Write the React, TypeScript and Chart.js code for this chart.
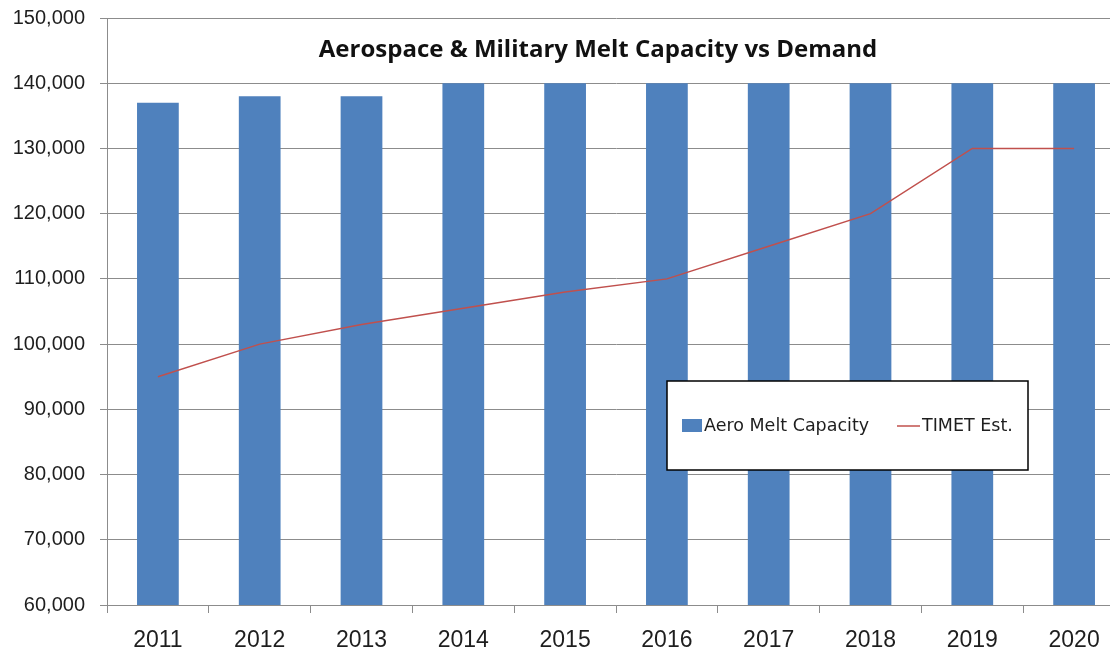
import React, { useEffect, useRef } from "react";
import { Chart, registerables } from "chart.js";

Chart.register(...registerables);

const years = ["2011", "2012", "2013", "2014", "2015", "2016", "2017", "2018", "2019", "2020"];
const meltCapacity = [137000, 138000, 138000, 140000, 140000, 140000, 140000, 140000, 140000, 140000];
const timetEst = [95000, 100000, 103000, 105500, 108000, 110000, 115000, 120000, 130000, 130000];
const titleText = "Aerospace & Military Melt Capacity vs Demand";
const barLabel = "Aero Melt Capacity";
const lineLabel = "TIMET Est.";

const BAR_COLOR = "#4F81BD";
const LINE_COLOR = "#C0504D";
const GRID_COLOR = "#8c8c8c";
const TEXT_COLOR = "#1e1e1e";

const overlayPlugin = {
  id: "overlay",
  afterDraw(chart: any) {
    const ctx = chart.ctx as CanvasRenderingContext2D;
    ctx.save();
    // title inside plot
    ctx.font = "bold 24px 'Open Sans', Lato, sans-serif";
    ctx.fillStyle = "#111";
    ctx.textAlign = "center";
    ctx.textBaseline = "middle";
    ctx.fillText(titleText, 598, 50);

    // legend box
    const bx = 667, by = 381, bw = 361, bh = 89;
    ctx.fillStyle = "#ffffff";
    ctx.fillRect(bx, by, bw, bh);
    ctx.strokeStyle = "#000";
    ctx.lineWidth = 1.5;
    ctx.strokeRect(bx, by, bw, bh);
    const cy = by + 45;
    ctx.fillStyle = BAR_COLOR;
    ctx.fillRect(bx + 15, cy - 7, 20, 13);
    ctx.font = "17.5px 'DejaVu Sans', Verdana, sans-serif";
    ctx.fillStyle = TEXT_COLOR;
    ctx.textAlign = "left";
    ctx.textBaseline = "middle";
    ctx.fillText(barLabel, bx + 37, cy);
    ctx.strokeStyle = LINE_COLOR;
    ctx.lineWidth = 1.5;
    ctx.beginPath();
    ctx.moveTo(bx + 230, cy);
    ctx.lineTo(bx + 253, cy);
    ctx.stroke();
    ctx.fillText(lineLabel, bx + 255, cy);
    ctx.restore();
  },
};

export default function App() {
  const canvasRef = useRef<HTMLCanvasElement | null>(null);

  useEffect(() => {
    if (!canvasRef.current) return;
    const chart = new Chart(canvasRef.current, {
      type: "bar",
      data: {
        labels: years,
        datasets: [
          {
            type: "line",
            label: lineLabel,
            data: timetEst,
            borderColor: LINE_COLOR,
            backgroundColor: LINE_COLOR,
            borderWidth: 1.5,
            pointRadius: 0,
            tension: 0,
            order: 0,
          } as any,
          {
            type: "bar",
            label: barLabel,
            data: meltCapacity,
            backgroundColor: BAR_COLOR,
            borderWidth: 0,
            categoryPercentage: 1,
            barPercentage: 0.41,
            order: 1,
          },
        ],
      },
      options: {
        responsive: false,
        animation: false,
        layout: { padding: { top: 18, left: 0, right: 0, bottom: 0 } },
        plugins: {
          legend: { display: false },
          title: { display: false },
          tooltip: { enabled: false },
        },
        scales: {
          x: {
            offset: true,
            grid: {
              offset: true,
              drawOnChartArea: false,
              drawTicks: true,
              tickLength: 8,
              color: GRID_COLOR,
            },
            border: { display: true, color: GRID_COLOR, width: 1 },
            ticks: {
              font: { family: "'Liberation Sans', Arial, sans-serif", size: 23 },
              color: TEXT_COLOR,
              padding: 14,
              maxRotation: 0,
            },
            afterFit: (scale: any) => {
              scale.height = 52;
            },
          },
          y: {
            min: 60000,
            max: 150000,
            ticks: {
              stepSize: 10000,
              font: { family: "'Liberation Sans', Arial, sans-serif", size: 20, lineHeight: 0.1 },
              color: TEXT_COLOR,
              padding: 15,
              callback: (v: any) => Number(v).toLocaleString("en-US"),
            },
            grid: { color: GRID_COLOR, tickLength: 7, lineWidth: 1 },
            border: { display: true, color: GRID_COLOR, width: 1 },
            afterFit: (scale: any) => {
              scale.width = 107;
            },
          },
        },
      },
      plugins: [overlayPlugin],
    });
    return () => chart.destroy();
  }, []);

  return (
    <div
      style={{
        position: "fixed",
        left: 0,
        top: 0,
        width: 1110,
        height: 657,
        overflow: "hidden",
        background: "#fff",
      }}
    >
      <canvas ref={canvasRef} width={1125} height={657} style={{ display: "block" }} />
    </div>
  );
}
